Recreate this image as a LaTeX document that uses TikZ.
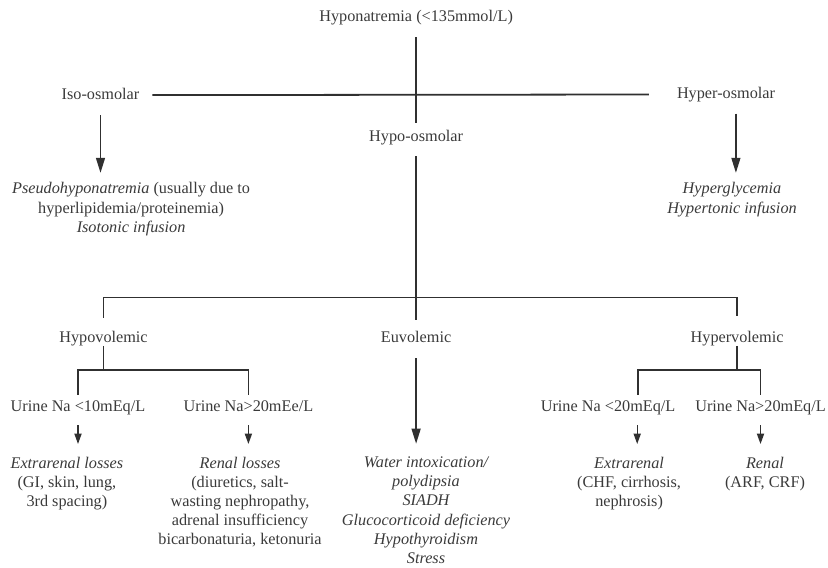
\documentclass[tikz,border=0pt]{standalone}
\usepackage{fontspec}
\setmainfont{Liberation Serif}
\usetikzlibrary{arrows.meta,positioning}

\definecolor{txtgray}{HTML}{3A3A3A}
\definecolor{linegray}{HTML}{303030}

\tikzset{
  lbl/.style={inner sep=0pt, text=txtgray, text height=10.8pt, text depth=3.4pt,
    font=\fontsize{15.4}{18.2}\selectfont},
  res/.style={inner sep=0pt, anchor=north, align=center, text=txtgray,
    font=\fontsize{15.4}{18.2}\selectfont},
  resit/.style={res, font=\fontsize{15.4}{18.2}\selectfont\itshape},
  link/.style={draw=linegray, line width=1.3pt},
  bigarr/.style={link, -{Triangle[length=0.5cm, width=0.3cm]}},
  smallarr/.style={link, -{Triangle[length=0.35cm, width=0.24cm]}}
}

\begin{document}
\begin{tikzpicture}
\useasboundingbox (0,0) rectangle (27.6,-18.9);

% osmolality
\node[lbl] (hypona) at (13.87,-0.6) {Hyponatremia (<135mmol/L)};
\node[lbl] (iso) at (3.35,-3.17) {Iso-osmolar};
\node[lbl] (hyperosm) at (24.2,-3.15) {Hyper-osmolar};
\node[lbl] (hypoosm) at (13.87,-4.57) {Hypo-osmolar};
\node[res] (isores) at (4.37,-6.08) {\textit{Pseudohyponatremia} (usually due to\\hyperlipidemia/proteinemia)\\\textit{Isotonic infusion}};
\node[resit] (hyperres) at (24.4,-6.08) {Hyperglycemia\\Hypertonic infusion};

\draw[link] ([yshift=-0.38cm]hypona.south) -- ([yshift=0.22cm]hypoosm.north);
\draw[link, line width=1.7pt] ([xshift=0.43cm]iso.east) -- ([xshift=-0.93cm]hyperosm.west);
\draw[bigarr] ([yshift=-0.42cm]iso.south) -- ([yshift=0.32cm]iso.south |- isores.north);
\draw[bigarr] ([xshift=0.33cm,yshift=-0.38cm]hyperosm.south) -- ([xshift=0.33cm,yshift=0.32cm]hyperosm.south |- hyperres.north);

% volume status
\node[lbl] (hypovol) at (3.45,-11.27) {Hypovolemic};
\node[lbl] (euvol) at (13.87,-11.27) {Euvolemic};
\node[lbl] (hypervol) at (24.57,-11.27) {Hypervolemic};
\node[resit] (euvres) at (14.2,-15.22) {Water intoxication/\\polydipsia\\SIADH\\Glucocorticoid deficiency\\Hypothyroidism\\Stress};

\draw[link] ([yshift=0.42cm]hypovol.north) -- ++(0,0.68) -| ([yshift=0.48cm]hypervol.north);
\draw[link] ([yshift=-0.38cm]hypoosm.south) -- ([yshift=0.35cm]euvol.north);
\draw[bigarr] ([yshift=-0.42cm]euvol.south) -- ([yshift=0.43cm]euvol.south |- euvres.north);

% urine sodium
\node[lbl] (unalow) at (2.6,-13.57) {Urine Na <10mEq/L};
\node[lbl] (unahigh) at (8.28,-13.57) {Urine Na>20mEe/L};
\node[lbl] (unbalow) at (20.27,-13.57) {Urine Na <20mEq/L};
\node[lbl] (unbahigh) at (25.35,-13.57) {Urine Na>20mEq/L};

\node[res] (exlossres) at (2.23,-15.22) {\textit{Extrarenal losses}\\(GI, skin, lung,\\3rd spacing)};
\node[res] (renlossres) at (8.0,-15.22) {\textit{Renal losses}\\(diuretics, salt-\\wasting nephropathy,\\adrenal insufficiency\\bicarbonaturia, ketonuria};
\node[res] (exres) at (20.97,-15.22) {\textit{Extrarenal}\\(CHF, cirrhosis,\\nephrosis)};
\node[res] (renres) at (25.5,-15.22) {\textit{Renal}\\(ARF, CRF)};

\draw[link] (hypovol.south) -- ++(0,-0.82);
\draw[link] ([yshift=0.15cm]unalow.north) -- ++(0,0.83) -| ([yshift=0.15cm]unahigh.north);
\draw[link] (hypervol.south) -- ++(0,-0.82);
\draw[link] ([xshift=1cm,yshift=0.15cm]unbalow.north) -- ++(0,0.83) -| ([yshift=0.15cm]unbahigh.north);

\draw[smallarr] ([yshift=-0.35cm]unalow.south) -- ([yshift=0.42cm]unalow.south |- exlossres.north);
\draw[smallarr] ([yshift=-0.35cm]unahigh.south) -- ([yshift=0.42cm]unahigh.south |- renlossres.north);
\draw[smallarr] ([xshift=0.97cm,yshift=-0.35cm]unbalow.south) -- ([xshift=0.97cm,yshift=0.42cm]unbalow.south |- exres.north);
\draw[smallarr] ([yshift=-0.35cm]unbahigh.south) -- ([yshift=0.42cm]unbahigh.south |- renres.north);
\end{tikzpicture}
\end{document}
